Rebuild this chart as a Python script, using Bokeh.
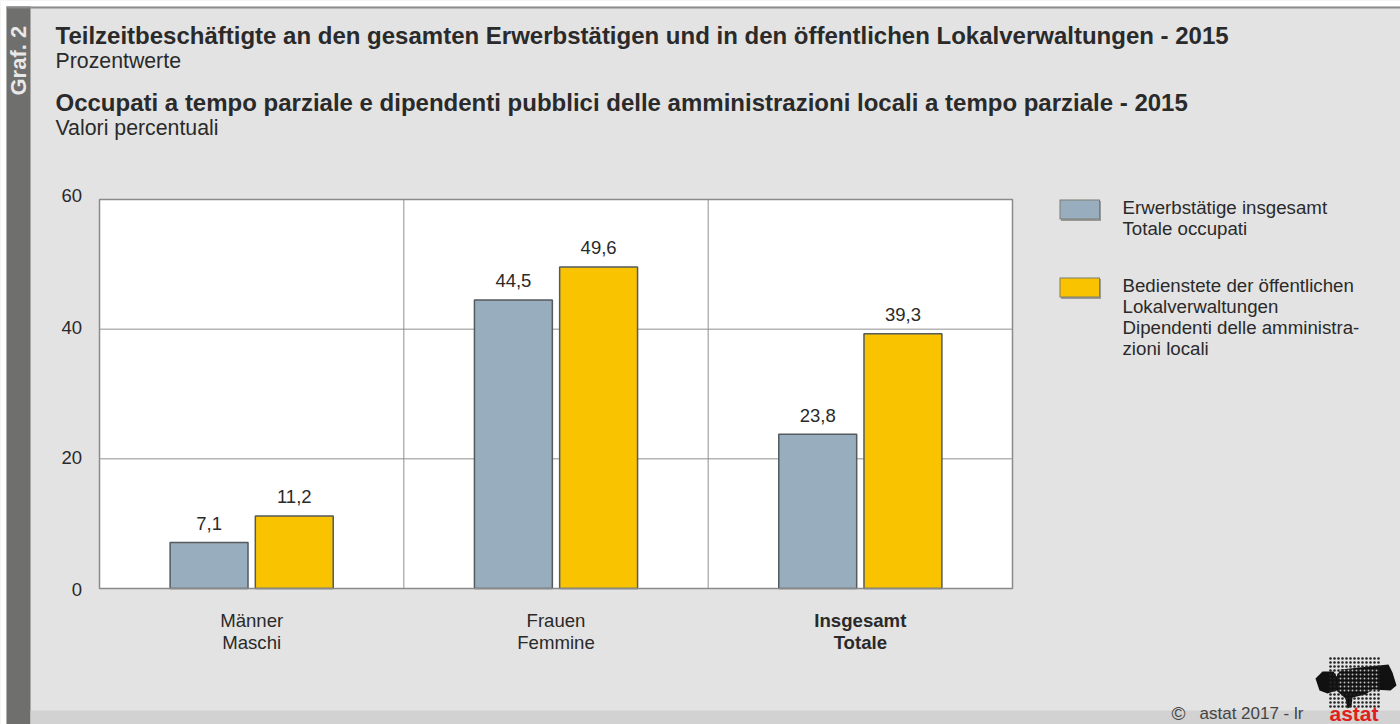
from bokeh.embed import file_html
from bokeh.resources import INLINE
from bokeh.plotting import figure
from bokeh.models import ColumnDataSource, Range1d
from bokeh.core.properties import value

categories = ["Männer\nMaschi", "Frauen\nFemmine", "Insgesamt\nTotale"]
erwerbstaetige = [7.1, 44.5, 23.8]
bedienstete = [11.2, 49.6, 39.3]
y_ticks = [0, 20, 40, 60]
series_names = ["Erwerbstätige insgesamt\nTotale occupati",
                "Bedienstete der öffentlichen\nLokalverwaltungen\nDipendenti delle amministra-\nzioni locali"]
titles = ["Teilzeitbeschäftigte an den gesamten Erwerbstätigen und in den öffentlichen Lokalverwaltungen - 2015",
          "Prozentwerte",
          "Occupati a tempo parziale e dipendenti pubblici delle amministrazioni locali a tempo parziale - 2015",
          "Valori percentuali"]

BLUE, YELLOW, BG, INK = "#98adbd", "#f9c300", "#e3e3e3", "#2a2a2a"
FONT = value("Liberation Sans")
W, H = 1400, 724
FL, FT, FR, FB = 99, 199, 1012, 588   # plot panel in page pixels
YMAX = y_ticks[-1]
NG = len(categories)


def X(px):
    return (px - FL) * NG / (FR - FL)


def Y(py):
    return (FB - py) * YMAX / (FB - FT)


p = figure(width=W, height=H, output_backend="svg", toolbar_location=None,
           x_range=Range1d(X(0), X(W)), y_range=Range1d(Y(H), Y(0)),
           min_border=0, background_fill_color=BG, border_fill_color=BG, outline_line_color=None)
p.axis.visible = False
p.grid.visible = False


def rect(l, t, r, b, col, level="image"):
    p.quad(left=[X(l)], right=[X(r)], top=[Y(t)], bottom=[Y(b)], fill_color=col, line_color=None, level=level)


def lab(txt, px, py, size="18.5px", style="normal", align="left", color=INK, angle=0):
    p.text(x=[X(px)], y=[Y(py)], text=[txt], text_font=FONT, text_font_size=size, text_font_style=style,
           text_align=align, text_baseline="alphabetic", text_color=color, angle=angle)


# page chrome
rect(0, 0, 6, H, "white")
rect(0, 0, W, 6, "white")
rect(6, 6, 30, H, "#6f6f6d")
rect(6, 6, W, 8, "#8c8c8c")
rect(30, 710, W, H, "#d2d2d2")
lab("Graf. 2", 18, 95, size="22px", style="bold", color="#e8e8e8", angle=1.5708)

for txt, y, bold in zip(titles, (35, 60, 102, 127), (True, False, True, False)):
    lab(txt, 55, y, size="24px" if bold else "21.3px", style="bold" if bold else "normal")

# plot panel, grid lines
p.quad(left=[0], right=[NG], top=[YMAX], bottom=[0], fill_color="white", line_color=None, level="image")
p.segment(x0=[1, 2], x1=[1, 2], y0=[0, 0], y1=[YMAX, YMAX], line_color="#8f8f8f", line_width=1, level="underlay")
p.segment(x0=[0, 0], x1=[NG, NG], y0=y_ticks[1:3], y1=y_ticks[1:3], line_color="#8f8f8f", line_width=1, level="underlay")
p.quad(left=[0], right=[NG], top=[YMAX], bottom=[0], fill_color=None, line_color="#8a8a8a", line_width=1.5, level="guide")

# y tick labels
tick_nudge = [1, -1, -2, -4]
p.text(x=[X(81.5)] * len(y_ticks), y=y_ticks, text=[str(t) for t in y_ticks], text_align="right",
       text_baseline="middle", y_offset=tick_nudge, text_font=FONT, text_font_size="18.5px", text_color=INK)

# bars and value labels
centers = [i + 0.5 for i in range(NG)]
OFF, BW = 0.14, 0.256
for vals, col, off in ((erwerbstaetige, BLUE, -OFF), (bedienstete, YELLOW, OFF)):
    xs = [c + off for c in centers]
    src = ColumnDataSource(dict(x=xs, top=vals, lab=[f"{v:.1f}".replace(".", ",") for v in vals]))
    p.vbar(x="x", top="top", bottom=0, width=BW, source=src, fill_color=col, line_color="#555a5c", line_width=1.5)
    p.text(x="x", y="top", text="lab", source=src, text_align="center", text_baseline="alphabetic",
           y_offset=-19, text_font=FONT, text_font_size="18.5px", text_color=INK)

# category labels
for i, c in enumerate(categories):
    st = "bold" if i == 2 else "normal"
    for line, yy in zip(c.split("\n"), (620, 642)):
        p.text(x=[centers[i]], y=[Y(yy)], text=[line], text_align="center", text_baseline="alphabetic",
               text_font=FONT, text_font_size="18.6px", text_font_style=st, text_color=INK)

# legend
for name, col, top in zip(series_names, (BLUE, YELLOW), (199, 277)):
    rect(1060.5, top + 1.5, 1100.5, top + 21.5, "#9a9a9a")
    rect(1059, top, 1099.5, top + 20, "#7d7d70", level="underlay")
    rect(1060, top + 1, 1098.5, top + 19, col, level="glyph")
    for j, line in enumerate(name.split("\n")):
        lab(line, 1122, top + 7.5 + j * 21, size="18.7px")

# footer
lab("©", 1171, 713, size="19px", color="#444444")
lab("astat 2017 - lr", 1199, 713, size="17px", color="#444444")

# logo
p.patch(x=[X(v) for v in [1315, 1322, 1333, 1336, 1340, 1388, 1392, 1396, 1390, 1372, 1365, 1352, 1351, 1347, 1345, 1336, 1327, 1319]],
        y=[Y(v) for v in [678, 671, 671, 676, 669, 664, 672, 685, 690, 689, 694, 697, 706, 708, 698, 690, 693, 690]],
        fill_color="#111111", line_color=None, level="underlay")
gx = [X(1330 + c * 4.0) for c in range(13) for r in range(13)]
gy = [Y(658 + r * 4.0) for c in range(13) for r in range(13)]
p.scatter(gx, gy, size=2.6, marker="circle", fill_color="#222222", line_color=None, level="underlay")
hx = [X(1340 + c * 4.0) for c in range(10) for r in range(6)]
hy = [Y(670 + r * 4.0) for c in range(10) for r in range(6)]
p.scatter(hx, hy, size=1.8, marker="circle", fill_color="#c0c0c0", line_color=None, level="glyph")
lab("astat", 1329, 713, size="21px", style="bold", color="#e0201c")

open("out.html", "w").write(file_html(p, INLINE))
